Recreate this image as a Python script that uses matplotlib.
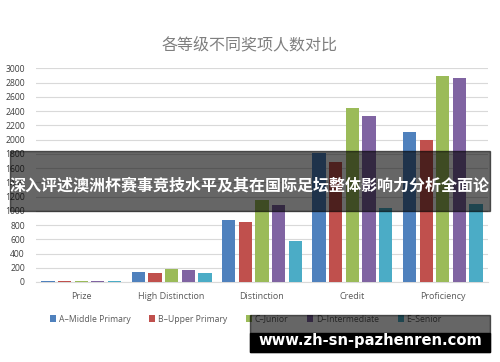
import numpy as np
import matplotlib.pyplot as plt
from matplotlib.patches import Rectangle

# award categories and grade series
categories = ['Prize', 'High Distinction', 'Distinction', 'Credit', 'Proficiency']
series_names = ['A–Middle Primary', 'B–Upper Primary', 'C–Junior', 'D–Intermediate', 'E–Senior']
a_middle_primary = [20, 136, 869, 1810, 2105]
b_upper_primary = [15, 127, 845, 1690, 2000]
c_junior = [20, 179, 1150, 2440, 2895]
d_intermediate = [20, 165, 1080, 2330, 2870]
e_senior = [10, 132, 577, 1033, 1094]
yticks = [0, 200, 400, 600, 800, 1000, 1200, 1400, 1600, 1800, 2000,
          2200, 2400, 2600, 2800, 3000]

title_text = '各等级不同奖项人数对比'
banner_text = '深入评述澳洲杯赛事竞技水平及其在国际足坛整体影响力分析全面论'
watermark_text = 'www.zh-sn-pazhenren.com'

colors = ['#4F81BD', '#C0504D', '#9BBB59', '#8064A2', '#4BACC6']
all_series = [a_middle_primary, b_upper_primary, c_junior, d_intermediate, e_senior]

plt.rcParams['font.family'] = ['Open Sans', 'DejaVu Sans']

fig = plt.figure(figsize=(5, 3.62), dpi=100)
ax = fig.add_axes([0.072, 0.221, 0.904, 0.590])

x = np.arange(len(categories))
step = 0.184
width = 0.147
for i, (vals, name, c) in enumerate(zip(all_series, series_names, colors)):
    ax.bar(x + (i - 2) * step, vals, width, color=c, label=name, zorder=3)

ax.set_xlim(-0.5, 4.5)
ax.set_ylim(0, 3000)
ax.set_yticks(yticks)
ax.set_xticks(x)
ax.set_xticklabels(categories, fontsize=6.5, color='#595959')
ax.tick_params(axis='y', labelsize=6.2, colors='#404040', length=0, pad=8)
ax.tick_params(axis='x', length=0, pad=7)
ax.grid(axis='y', color='#D9D9D9', linewidth=0.8, zorder=0)
for s in ['top', 'right', 'left']:
    ax.spines[s].set_visible(False)
ax.spines['bottom'].set_color('#D9D9D9')

fig.text(0.5, 1 - 45 / 362, title_text, ha='center', va='center', fontsize=11.5,
         color='#7F7F7F', family=['Noto Sans CJK SC', 'DejaVu Sans'])

fig.legend(loc='center', bbox_to_anchor=(0.492, 1 - 319 / 362), ncol=5,
           frameon=False, fontsize=6.2, handlelength=0.7, handleheight=0.7,
           handletextpad=0.3, columnspacing=2.2, labelcolor='#595959')

# dark banner across the middle
fig.patches.append(Rectangle((10 / 500, 1 - 211 / 362), 480 / 500, 60 / 362,
                             transform=fig.transFigure, color='black',
                             alpha=0.6, zorder=10))
fig.text(0.5, 1 - 186 / 362, banner_text, ha='center', va='center',
         fontsize=11.5, color='white', fontweight='bold', zorder=11,
         family=['Noto Sans CJK SC', 'DejaVu Sans'])

# watermark box bottom right
fig.patches.append(Rectangle((250 / 500, 1 - 352 / 362), 240 / 500, 37 / 362,
                             transform=fig.transFigure, color='black',
                             alpha=0.6, zorder=10))
fig.patches.append(Rectangle((250 / 500, 1 - 352 / 362), 240 / 500, 19 / 362,
                             transform=fig.transFigure, color='black',
                             zorder=10))
fig.text(370 / 500, 1 - 340 / 362, watermark_text, ha='center', va='center',
         fontsize=10.6, color='white', fontweight='bold', zorder=11,
         family=['DejaVu Sans'])

fig.savefig('out.png', dpi=100)
